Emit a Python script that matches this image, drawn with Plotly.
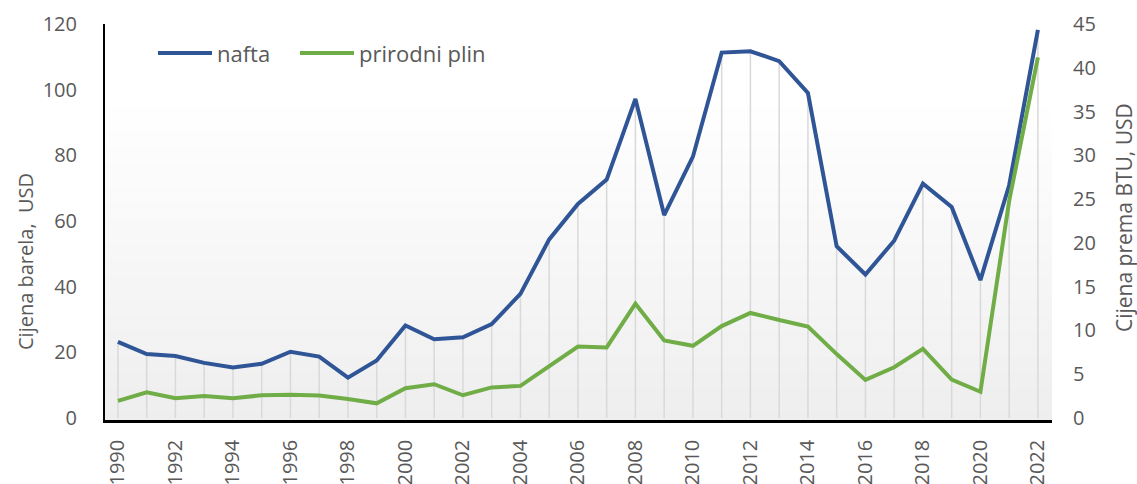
import plotly.graph_objects as go

years = list(range(1990, 2023))
nafta = [23.2, 19.5, 18.9, 16.8, 15.4, 16.5, 20.2, 18.7, 12.3, 17.5,
         28.2, 24.0, 24.6, 28.6, 37.8, 54.4, 65.2, 72.6, 97.2, 61.8,
         79.6, 111.3, 111.7, 108.7, 99.0, 52.3, 43.7, 54.0, 71.4, 64.3,
         42.0, 70.9, 118.2]
plin = [1.95, 2.94, 2.25, 2.52, 2.25, 2.6, 2.67, 2.56, 2.18, 1.68,
        3.4, 3.86, 2.6, 3.5, 3.67, 5.96, 8.17, 8.06, 13.06, 8.86,
        8.25, 10.5, 12.0, 11.2, 10.45, 7.3, 4.35, 5.8, 7.9, 4.4,
        3.0, 24.8, 41.2]
series_names = ["nafta", "prirodni plin"]
left_title = "Cijena barela,  USD"
right_title = "Cijena prema BTU, USD"

BLUE = "#2f5597"
GREEN = "#70ad47"
GRAY_TXT = "#595959"
FONT = "Open Sans"

L_MAX, R_MAX = 120, 45
ratio = L_MAX / R_MAX

fig = go.Figure()

# drop lines (to highest point of the two series, expressed on left scale)
dx, dy = [], []
for yr, a, b in zip(years, nafta, plin):
    dx += [yr, yr, None]
    dy += [0, max(a, b * ratio), None]
fig.add_trace(go.Scatter(x=dx, y=dy, mode="lines",
                         line=dict(color="#d9d9d9", width=1.5),
                         hoverinfo="skip", showlegend=False))

fig.add_trace(go.Scatter(x=years, y=nafta, name=series_names[0], mode="lines",
                         line=dict(color=BLUE, width=4), showlegend=False))
fig.add_trace(go.Scatter(x=years, y=plin, name=series_names[1], mode="lines",
                         line=dict(color=GREEN, width=4), yaxis="y2",
                         showlegend=False))

# gradient background of plot area
shapes = []
n = 40
y_top = 0.81
for i in range(n):
    t0 = i / n
    t1 = (i + 1) / n
    c = int(round(0xee + (0xff - 0xee) * (t0 + 0.5 / n)))
    col = f"rgb({c},{c},{c})"
    shapes.append(dict(type="rect", xref="paper", yref="paper",
                       x0=0, x1=1, y0=t0 * y_top, y1=t1 * y_top,
                       fillcolor=col, line=dict(width=0), layer="below"))

W, H = 1137, 484
ml, mr, mt, mb = 105, 85, 24, 64
pw, ph = W - ml - mr, H - mt - mb

def px2paper(xp, yp):
    return (xp - ml) / pw, (H - mb - yp) / ph

leg_items = [(158, 212, BLUE, series_names[0]), (300, 354, GREEN, series_names[1])]
annotations = []
for x0, x1, col, name in leg_items:
    a0, yy = px2paper(x0, 53)
    a1, _ = px2paper(x1, 53)
    shapes.append(dict(type="line", xref="paper", yref="paper", x0=a0, x1=a1,
                       y0=yy, y1=yy, line=dict(color=col, width=4)))
    tx, _ = px2paper(x1 + 3, 53)
    annotations.append(dict(xref="paper", yref="paper", x=tx, y=yy, text=name,
                            showarrow=False, xanchor="left", yanchor="middle",
                            font=dict(family=FONT, size=22, color=GRAY_TXT)))

lx, ly = px2paper(25, 262)
annotations.append(dict(xref="paper", yref="paper", x=lx, y=ly, text=left_title,
                        textangle=-90, showarrow=False, xanchor="center",
                        yanchor="middle",
                        font=dict(family=FONT, size=20, color=GRAY_TXT)))
rx, ry = px2paper(1124, 218)
annotations.append(dict(xref="paper", yref="paper", x=rx, y=ry, text=right_title,
                        textangle=-90, showarrow=False, xanchor="center",
                        yanchor="middle",
                        font=dict(family=FONT, size=21, color=GRAY_TXT)))

fig.update_layout(
    width=W, height=H,
    margin=dict(l=ml, r=mr, t=mt, b=mb, autoexpand=False),
    paper_bgcolor="white", plot_bgcolor="white",
    font=dict(family=FONT, size=20, color=GRAY_TXT),
    shapes=shapes, annotations=annotations,
    xaxis=dict(range=[1989.55, 2022.49], tickmode="linear", tick0=1990, dtick=2,
               tickangle=-90, showgrid=False, zeroline=False, automargin=False,
               showline=True, linecolor="black", linewidth=2.5,
               ticks="", ticklabelstandoff=9,
               tickfont=dict(family=FONT, size=20, color=GRAY_TXT)),
    yaxis=dict(range=[-0.6, L_MAX], tickmode="linear", tick0=0, dtick=20,
               showgrid=False, zeroline=False, showline=True, automargin=False,
               linecolor="black", linewidth=2, ticks="",
               ticklabelstandoff=22,
               tickfont=dict(family=FONT, size=20, color=GRAY_TXT)),
    yaxis2=dict(range=[-0.6 / ratio, R_MAX], tickmode="linear", tick0=0, dtick=5,
                overlaying="y", side="right", showgrid=False, zeroline=False,
                showline=False, ticks="", ticklabelstandoff=20, automargin=False,
                tickfont=dict(family=FONT, size=20, color=GRAY_TXT)),
)

fig.write_html("out.html", config={"displayModeBar": False},
               post_script="document.body.style.margin='0';document.body.style.overflow='hidden';")
